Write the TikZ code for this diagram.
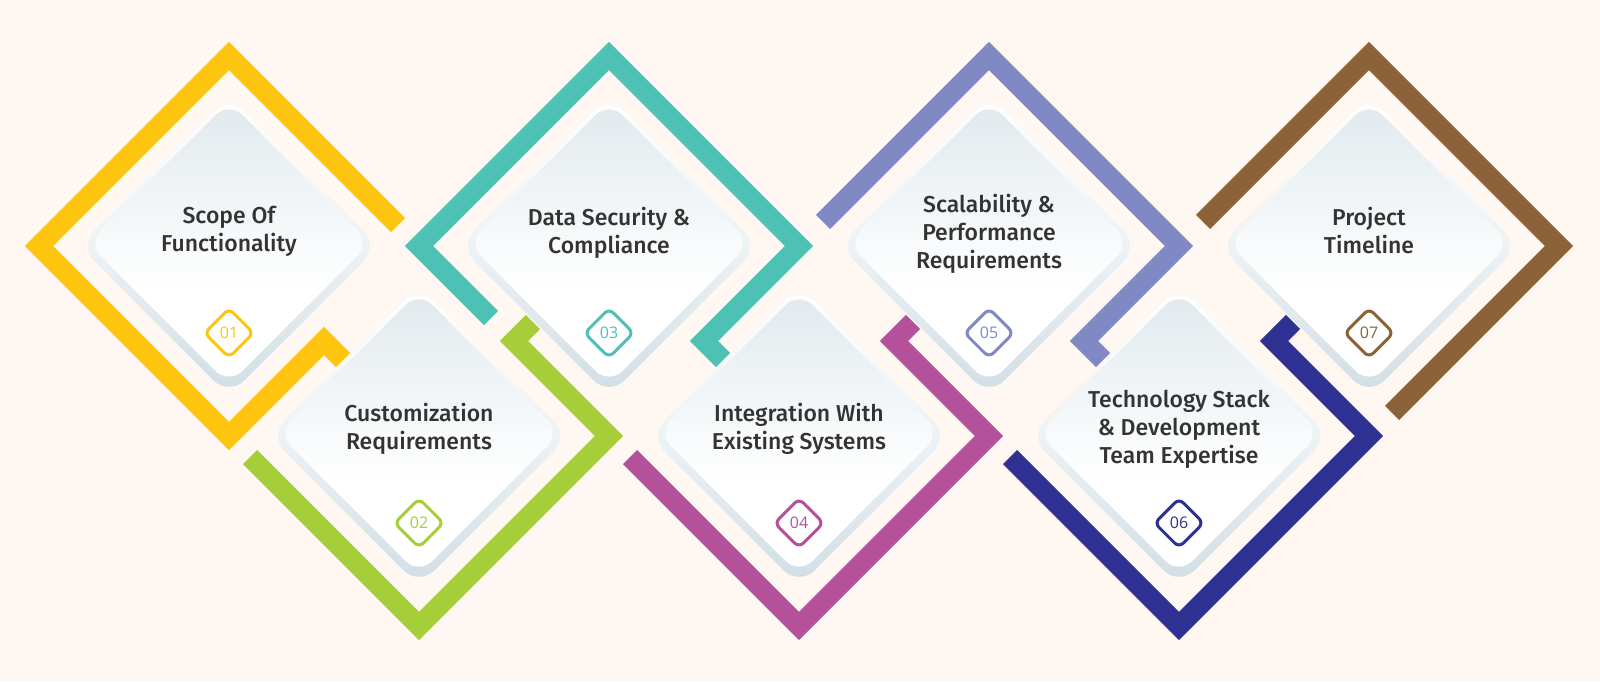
\documentclass[tikz,border=0pt]{standalone}
\usepackage{fontspec}
\setmainfont{Fira Sans}[BoldFont={Fira Sans Medium}]
\newfontfamily\numfont{Open Sans}
\usetikzlibrary{calc, shapes.geometric}

\definecolor{bgcream}{HTML}{FEF7F2}
\definecolor{yellowc}{HTML}{FDC50F}
\definecolor{greenc}{HTML}{A6CE39}
\definecolor{tealc}{HTML}{4DC2B4}
\definecolor{magentac}{HTML}{B5519B}
\definecolor{lavenderc}{HTML}{8189C4}
\definecolor{navyc}{HTML}{2E3192}
\definecolor{brownc}{HTML}{8C6239}
\definecolor{cardtop}{HTML}{E1E9ED}
\definecolor{ringmid}{HTML}{EDF2F5}
\definecolor{ringbot}{HTML}{D0DEE5}
\definecolor{textdark}{HTML}{333333}

\pgfdeclareverticalshading{ringfade}{100bp}{color(0bp)=(ringbot); color(25bp)=(ringbot); color(50bp)=(ringmid); color(75bp)=(white); color(100bp)=(white)}
\pgfdeclareverticalshading{cardfade}{100bp}{color(0bp)=(white); color(25bp)=(white); color(42bp)=(white); color(75bp)=(cardtop); color(100bp)=(cardtop)}

\tikzset{
	frame/.style={line width=20pt, line join=miter}
}
\tikzset{
	cardring/.style={diamond, shape aspect=1, minimum width=300pt, minimum height=300pt,
		inner sep=0pt, rounded corners=22pt, shade, shading=ringfade},
	cardface/.style={diamond, shape aspect=1, minimum width=283pt, minimum height=283pt,
		inner sep=0pt, rounded corners=19pt, shade, shading=cardfade},
	cardtext/.style={align=center, text=textdark, font=\bfseries\fontsize{23}{28}\selectfont},
	badge/.style={diamond, shape aspect=1, minimum width=50pt, minimum height=50pt,
		inner sep=0pt, rounded corners=6pt, line width=3pt, fill=white, draw,
		font=\numfont\fontsize{16}{16}\selectfont}
}

\begin{document}
\begin{tikzpicture}[x=1pt, y=-1pt]
  \fill[bgcream] (0,0) rectangle (1600,681);
  \useasboundingbox (0,0) rectangle (1600,681);
  \foreach \n/\x/\y in {1/229/246, 2/419/436, 3/609/246, 4/799/436, 5/989/246, 6/1179/436, 7/1369/246}
    \coordinate (c\n) at (\x,\y);

  % frames
  \draw[frame, yellowc] (c1) ++(169,-21) -- ++(-169,-169) -- ++(-190,190) -- ++(190,190) -- ++(95,-95) -- ++(19,19);
  \draw[frame, tealc] (c3) ++(-118,72) -- ++(-72,-72) -- ++(190,-190) -- ++(190,190) -- ++(-95,95) -- ++(19,19);
  \draw[frame, lavenderc] (c5) ++(-166,-24) -- ++(166,-166) -- ++(190,190) -- ++(-95,95) -- ++(19,19);
  \draw[frame, brownc] (c7) ++(-166,-24) -- ++(166,-166) -- ++(190,190) -- ++(-167,167);
  \foreach \n/\col in {2/greenc, 4/magentac, 6/navyc}
    \draw[frame, \col] (c\n) ++(-169,21) -- ++(169,169) -- ++(190,-190) -- ++(-95,-95) -- ++(19,-19);

  % cards
  \foreach \n/\col/\num/\dy/\txt in {
      1/yellowc/01/-15/{Scope Of\\Functionality},
      2/greenc/02/-7/{Customization\\Requirements},
      3/tealc/03/-13/{Data Security \&\\Compliance},
      4/magentac/04/-7/{Integration With\\Existing Systems},
      5/lavenderc/05/-12/{Scalability \&\\Performance\\Requirements},
      6/navyc/06/-7/{Technology Stack\\\& Development\\Team Expertise},
      7/brownc/07/-16/{Project\\Timeline}} {
    \node[cardring] (ring\n) at (c\n) {};
    \node[cardface] (face\n) at ($(c\n)+(0,-3)$) {};
    \node[cardtext] (t\n) at ($(c\n)+(0,\dy)$) {\txt};
    \node[badge, draw=\col, text=\col] (b\n) at ($(c\n)+(0,87)$) {\num};
  }
\end{tikzpicture}
\end{document}
